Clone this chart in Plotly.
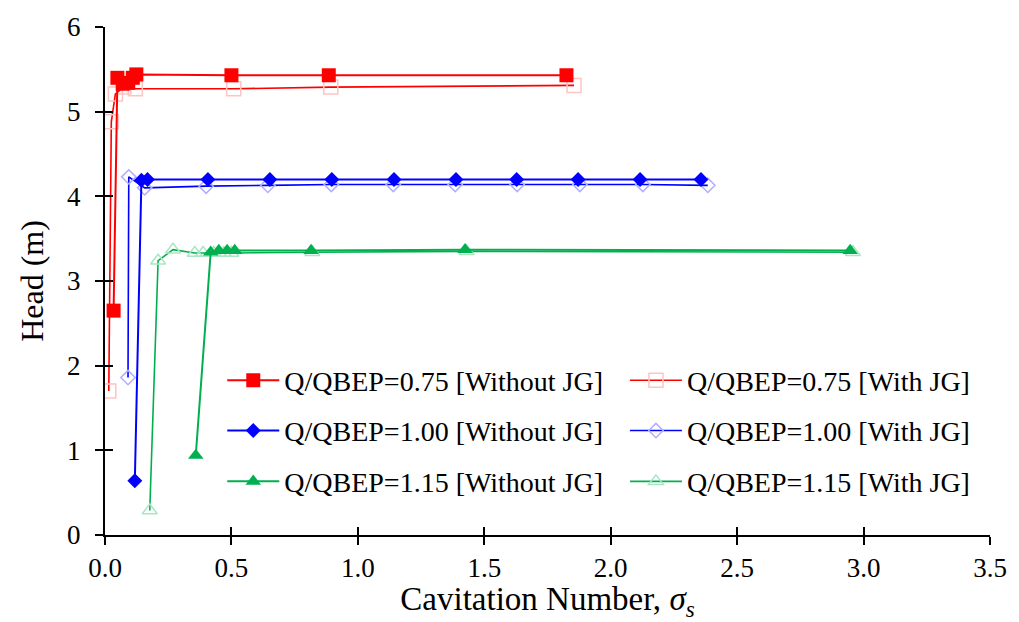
import plotly.graph_objects as go

# ---------------- data ----------------
sig_075_wo = [0.034, 0.049, 0.07, 0.092, 0.11, 0.124, 0.50, 0.885, 1.825]
head_075_wo = [2.65, 5.40, 5.33, 5.34, 5.40, 5.44, 5.43, 5.43, 5.43]

sig_075_w = [0.015, 0.025, 0.041, 0.074, 0.12, 0.509, 0.893, 1.855]
head_075_w = [1.70, 4.88, 5.21, 5.29, 5.27, 5.27, 5.29, 5.31]

sig_100_wo = [0.118, 0.144, 0.168, 0.407, 0.652, 0.897, 1.143, 1.388, 1.628, 1.871, 2.116, 2.357]
head_100_wo = [0.64, 4.19, 4.20, 4.20, 4.20, 4.20, 4.20, 4.20, 4.20, 4.20, 4.20, 4.20]

sig_100_w = [0.091, 0.094, 0.157, 0.40, 0.644, 0.895, 1.14, 1.385, 1.63, 1.878, 2.127, 2.384]
head_100_w = [1.86, 4.23, 4.10, 4.12, 4.13, 4.14, 4.14, 4.14, 4.14, 4.14, 4.14, 4.13]

sig_115_wo = [0.359, 0.418, 0.45, 0.483, 0.513, 0.815, 1.424, 2.947]
head_115_wo = [0.94, 3.34, 3.36, 3.36, 3.36, 3.36, 3.37, 3.36]

sig_115_w = [0.177, 0.21, 0.269, 0.355, 0.388, 0.43, 0.47, 0.50, 0.82, 1.43, 2.958]
head_115_w = [0.29, 3.24, 3.37, 3.33, 3.33, 3.33, 3.33, 3.33, 3.34, 3.35, 3.34]

names = [
    "Q/QBEP=0.75 [Without JG]", "Q/QBEP=0.75 [With JG]",
    "Q/QBEP=1.00 [Without JG]", "Q/QBEP=1.00 [With JG]",
    "Q/QBEP=1.15 [Without JG]", "Q/QBEP=1.15 [With JG]",
]

x_ticks = [0.0, 0.5, 1.0, 1.5, 2.0, 2.5, 3.0, 3.5]
y_ticks = [0, 1, 2, 3, 4, 5, 6]

RED, BLUE, GREEN = "rgb(255,0,0)", "rgb(0,0,255)", "rgb(0,176,80)"
PINK, LBLUE, LGREEN = "rgb(255,195,195)", "rgb(175,175,255)", "rgb(170,230,195)"
FONT = "Times New Roman, Liberation Serif, DejaVu Serif, serif"

fig = go.Figure()

def add(x, y, name, lc, lw, sym, size, mc, legend, open_=False):
    marker = dict(symbol=sym, size=size, color=mc)
    if open_:
        marker["line"] = dict(color=mc, width=1.5)
    else:
        marker["line"] = dict(width=0)
    fig.add_trace(go.Scatter(
        x=x, y=y, name=name, mode="lines+markers", showlegend=True,
        line=dict(color=lc, width=lw), marker=marker, legend=legend,
    ))

# with-JG first (drawn underneath)
add(sig_075_w, head_075_w, names[1], RED, 1.6, "square-open", 14, PINK, "legend2", True)
add(sig_100_w, head_100_w, names[3], BLUE, 1.6, "diamond-open", 11, LBLUE, "legend4", True)
add(sig_115_w, head_115_w, names[5], GREEN, 1.6, "triangle-up-open", 13, LGREEN, "legend6", True)
add(sig_075_wo, head_075_wo, names[0], RED, 2, "square", 14, RED, "legend")
add(sig_100_wo, head_100_wo, names[2], BLUE, 2, "diamond", 11.5, BLUE, "legend3")
add(sig_115_wo, head_115_wo, names[4], GREEN, 2, "triangle-up", 13.5, GREEN, "legend5")

# dummy trace for the overlay axes (inside half of crossing ticks)
fig.add_trace(go.Scatter(x=[0], y=[0], xaxis="x2", yaxis="y2", mode="markers",
                         marker=dict(size=1, opacity=0), showlegend=False, hoverinfo="skip"))

def leg(x, y):
    return dict(x=x, y=y, xanchor="left", yanchor="middle", bgcolor="rgba(0,0,0,0)",
                borderwidth=0, itemwidth=52, visible=True,
                font=dict(family=FONT, size=28, color="black"))

col1, col2 = 0.1325, 0.5875
rows = [0.304, 0.205, 0.105]

fig.update_layout(
    width=1019, height=622,
    showlegend=True,
    margin=dict(l=105, r=29, t=22, b=87),
    paper_bgcolor="white", plot_bgcolor="white",
    font=dict(family=FONT, size=26, color="black"),
    legend=leg(col1, rows[0]), legend2=leg(col2, rows[0]),
    legend3=leg(col1, rows[1]), legend4=leg(col2, rows[1]),
    legend5=leg(col1, rows[2]), legend6=leg(col2, rows[2]),
    xaxis=dict(range=[0, 3.5], tickvals=x_ticks, ticktext=[f"{v:.1f}" for v in x_ticks],
               showgrid=False, zeroline=False, showline=True, linecolor="black", linewidth=2,
               ticks="outside", ticklen=8, tickwidth=2, tickcolor="black",
               tickfont=dict(family=FONT, size=27),
               title=dict(text="Cavitation Number, <i>σ</i><sub><i>s</i></sub>",
                          font=dict(family=FONT, size=33), standoff=2)),
    yaxis=dict(range=[0, 6], tickvals=y_ticks, showgrid=False, zeroline=False,
               showline=True, linecolor="black", linewidth=2,
               ticks="outside", ticklen=8, tickwidth=2, tickcolor="black",
               ticklabelstandoff=9,
               tickfont=dict(family=FONT, size=27),
               title=dict(text="Head (m)", font=dict(family=FONT, size=32), standoff=14)),
    xaxis2=dict(range=[0, 3.5], overlaying="x", anchor="y", side="bottom", tickvals=x_ticks,
                showticklabels=False, showgrid=False, zeroline=False, showline=False,
                ticks="inside", ticklen=8, tickwidth=2, tickcolor="black"),
    yaxis2=dict(range=[0, 6], overlaying="y", anchor="x", side="left", tickvals=y_ticks,
                showticklabels=False, showgrid=False, zeroline=False, showline=False,
                ticks="inside", ticklen=8, tickwidth=2, tickcolor="black"),
)

fig.write_html("out.html")
